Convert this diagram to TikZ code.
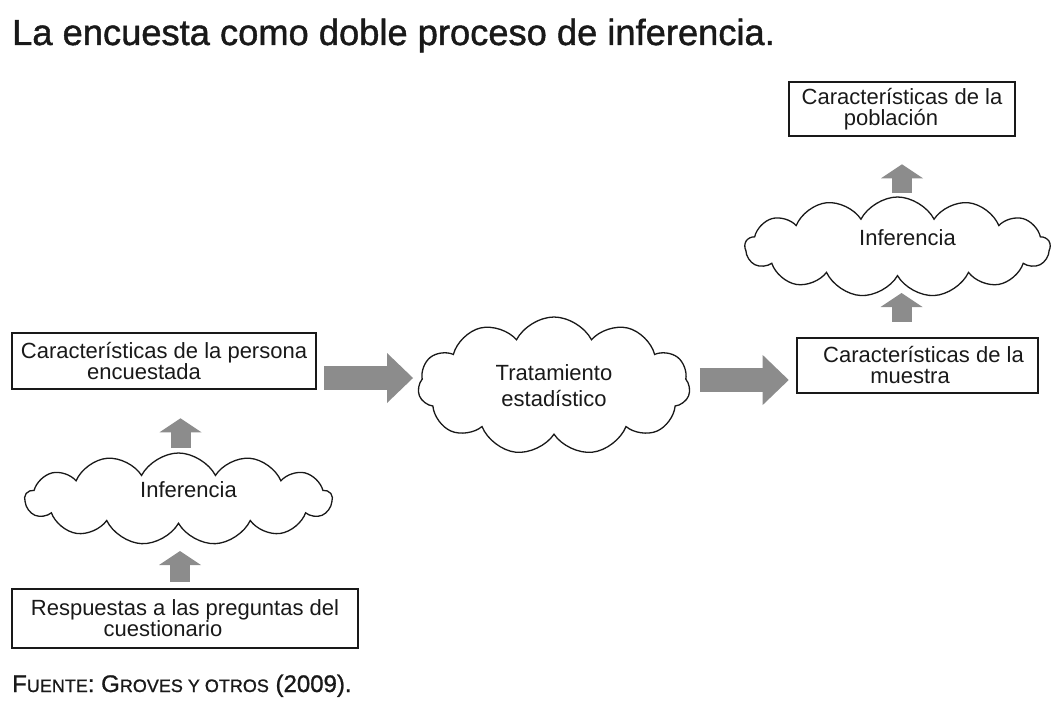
\documentclass[tikz,border=0pt]{standalone}
\usepackage{fontspec}
\setmainfont{Liberation Sans}
\newfontfamily\titlefont[FakeBold=1.2]{Liberation Sans}
\newfontfamily\srcfont[FakeBold=1]{Liberation Sans}
\usetikzlibrary{arrows.meta,shapes.symbols}
\definecolor{arrgray}{RGB}{140,140,140}
\definecolor{ink}{RGB}{25,25,25}
\newcommand{\fsc}[2]{{\fontsize{24}{26}\selectfont #1}{\fontsize{18}{26}\selectfont #2}}

\begin{document}
\begin{tikzpicture}[x=1pt,y=-1pt,line cap=round,text=ink,
  box/.style={draw=ink,line width=2.6pt,inner sep=0pt,align=center,font=\fontsize{22}{21}\selectfont},
  puff/.style={cloud,cloud puffs=13,cloud puff arc=125,cloud ignores aspect,draw=ink,line width=1.3pt,inner sep=0pt,align=center,font=\fontsize{22}{26}\selectfont},
  harrow/.style={draw=arrgray,line width=24pt,line cap=butt,-{Triangle[length=26pt,width=50pt,line width=0pt]}},
  varrow/.style={draw=arrgray,line width=20pt,line cap=butt,-{Triangle[length=14pt,width=42pt,line width=0pt]}}]
\useasboundingbox (0,0) rectangle (1063,709);
% title and source
\node[anchor=base west,inner sep=0pt,font=\titlefont\fontsize{36.3}{40}\selectfont] (title) at (12,45) {La encuesta como doble proceso de inferencia.};
\node[anchor=base west,inner sep=0pt,font=\srcfont] (src) at (12,692) {\fsc{F}{UENTE}\fontsize{24}{26}\selectfont: \fsc{G}{ROVES Y OTROS} (2009).};
% boxes
\node[box,minimum width=226,minimum height=54] (pob) at (902,109) {Características de la\\población\kern22pt};
\node[box,minimum width=241,minimum height=55] (mue) at (917.5,365.5) {\kern12pt Características de la\\muestra\kern15pt};
\node[box,minimum width=304,minimum height=56] (pers) at (164,361) {Características de la persona\\encuestada\kern40pt};
\node[box,minimum width=346,minimum height=59] (resp) at (185,618.5) {Respuestas a las preguntas del\\cuestionario\kern44pt};
% clouds
\node[puff,minimum width=305,minimum height=100,text depth=18pt] (inf2) at (897.5,247) {\kern20pt Inferencia};
\node[puff,cloud puffs=11,minimum width=272,minimum height=138] (trat) at (554,386) {Tratamiento\\estadístico};
\node[puff,minimum width=307,minimum height=92,text depth=18pt] (inf1) at (178.5,499) {\kern20pt Inferencia};
% arrows
\coordinate (a) at ([yshift=-17pt]pers.east);
\draw[harrow,shorten <=7pt,shorten >=5pt] (a) -- (a -| trat.west);
\coordinate (b) at ([yshift=6pt]trat.east);
\draw[harrow,shorten <=10pt,shorten >=7pt] (b) -- (b -| mue.west);
\coordinate (c) at ([xshift=-5pt]resp.north);
\draw[varrow,shorten <=6pt,shorten >=52pt] (c) -- (c |- inf1.center);
\coordinate (d) at ([xshift=2pt]inf1.center);
\draw[varrow,shorten <=51pt,shorten >=28pt] (d) -- (d |- pers.south);
\coordinate (e) at ([xshift=4pt]inf2.center);
\draw[varrow,shorten <=15pt,shorten >=46pt] (e |- mue.north) -- (e);
\draw[varrow,shorten <=54pt,shorten >=27pt] (pob.south |- inf2.center) -- (pob.south);
\end{tikzpicture}
\end{document}
